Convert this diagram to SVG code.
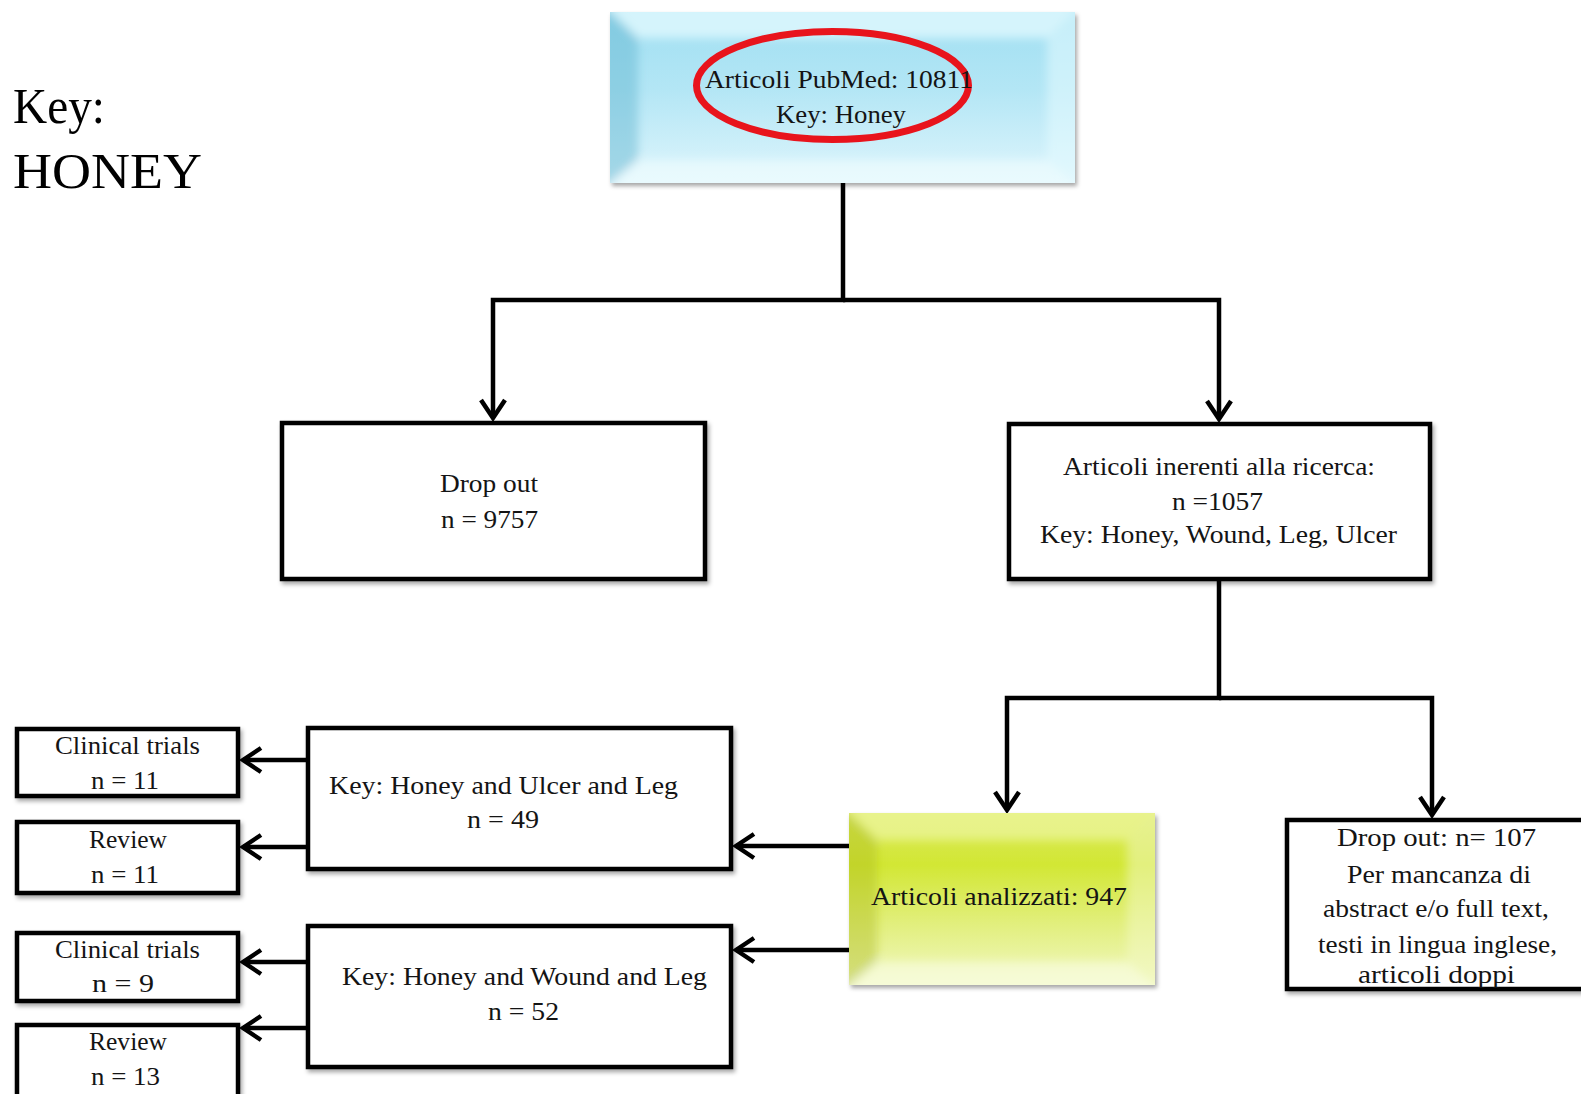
<svg xmlns="http://www.w3.org/2000/svg" width="1581" height="1094" viewBox="0 0 1581 1094">
  <style>
    text { font-family: "Liberation Serif", "Times New Roman", serif; font-size: 26px; fill: #141414; text-anchor: middle; }
    .key { font-size: 50px; text-anchor: start; fill: #000; }
    .box { fill: #ffffff; stroke: #000; stroke-width: 4.5; filter: url(#sh); }
    .conn { fill: none; stroke: #000; stroke-width: 4.5; }
    .arr { marker-end: url(#chev); }
  </style>
  <defs>
    <filter id="sh" x="-5%" y="-5%" width="115%" height="120%">
      <feDropShadow dx="2" dy="3" stdDeviation="2" flood-color="#000" flood-opacity="0.35"/>
    </filter>
    <filter id="soft" x="-5%" y="-5%" width="110%" height="110%">
      <feGaussianBlur stdDeviation="5"/>
    </filter>
    <clipPath id="clipBlue"><rect x="610" y="12" width="465" height="171"/></clipPath>
    <clipPath id="clipYellow"><rect x="849" y="813" width="306" height="172"/></clipPath>
    <marker id="chev" viewBox="0 0 26 30" refX="22" refY="15" markerWidth="26" markerHeight="30" markerUnits="userSpaceOnUse" orient="auto">
      <path d="M4 3 L22 15 L4 27" fill="none" stroke="#000" stroke-width="4.5" stroke-linejoin="miter"/>
    </marker>
    <linearGradient id="blue" x1="0" y1="0" x2="0" y2="1">
      <stop offset="0" stop-color="#a0dff2"/>
      <stop offset="0.45" stop-color="#b3e6f5"/>
      <stop offset="1" stop-color="#def5fc"/>
    </linearGradient>
    <linearGradient id="yellow" x1="0" y1="0" x2="0" y2="1">
      <stop offset="0" stop-color="#dbe95c"/>
      <stop offset="0.3" stop-color="#d2e734"/>
      <stop offset="0.65" stop-color="#e2ef7e"/>
      <stop offset="1" stop-color="#f1f8c2"/>
    </linearGradient>
  </defs>

  <g id="legend">
    <text class="key" x="13" y="123" textLength="92" lengthAdjust="spacingAndGlyphs">Key:</text>
    <text class="key" x="13" y="188" textLength="189" lengthAdjust="spacingAndGlyphs">HONEY</text>
  </g>

  <g id="connectors">
    <path class="conn arr" d="M843 183 V300 H493 V418"/>
    <path class="conn arr" d="M843 300 H1219 V419"/>
    <path class="conn arr" d="M1219 581 V698 H1007 V810"/>
    <path class="conn arr" d="M1219 698 H1432 V815"/>
    <path class="conn arr" d="M849 846 H736"/>
    <path class="conn arr" d="M849 950 H736"/>
    <path class="conn arr" d="M306 760 H243"/>
    <path class="conn arr" d="M306 847 H243"/>
    <path class="conn arr" d="M306 962 H243"/>
    <path class="conn arr" d="M306 1028 H243"/>
  </g>

  <g id="node-pubmed">
    <g filter="url(#sh)">
      <rect x="610" y="12" width="465" height="171" fill="url(#blue)"/>
    </g>
    <g clip-path="url(#clipBlue)">
      <g filter="url(#soft)">
        <polygon points="600,2 1085,2 1047,38 638,38" fill="#e6fbff" fill-opacity="0.75"/>
        <polygon points="600,2 638,38 638,160 600,193" fill="#5fb3cf" fill-opacity="0.45"/>
        <polygon points="1085,2 1047,38 1047,160 1085,193" fill="#e6fbff" fill-opacity="0.55"/>
        <polygon points="600,193 638,160 1047,160 1085,193" fill="#f2fdff" fill-opacity="0.6"/>
      </g>
    </g>
    <ellipse cx="832.5" cy="85.5" rx="136" ry="54" fill="none" stroke="#e8141c" stroke-width="7"/>
    <text x="839" y="88" textLength="268" lengthAdjust="spacingAndGlyphs">Articoli  PubMed:  10811</text>
    <text x="841" y="123" textLength="130" lengthAdjust="spacingAndGlyphs">Key: Honey</text>
  </g>

  <g id="node-dropout">
    <rect class="box" x="282" y="423" width="423" height="156"/>
    <text x="489" y="492" textLength="98" lengthAdjust="spacingAndGlyphs">Drop out</text>
    <text x="489.5" y="528" textLength="97" lengthAdjust="spacingAndGlyphs">n = 9757</text>
  </g>

  <g id="node-inerenti">
    <rect class="box" x="1009" y="424" width="421" height="155"/>
    <text x="1219" y="475" textLength="312" lengthAdjust="spacingAndGlyphs">Articoli  inerenti  alla ricerca:</text>
    <text x="1217.5" y="510" textLength="91" lengthAdjust="spacingAndGlyphs">n =1057</text>
    <text x="1218.5" y="543" textLength="357" lengthAdjust="spacingAndGlyphs">Key: Honey,  Wound, Leg, Ulcer</text>
  </g>

  <g id="node-analizzati">
    <g filter="url(#sh)">
      <rect x="849" y="813" width="306" height="172" fill="url(#yellow)"/>
    </g>
    <g clip-path="url(#clipYellow)">
      <g filter="url(#soft)">
        <polygon points="839,803 1165,803 1127,840 877,840" fill="#eef6a0" fill-opacity="0.7"/>
        <polygon points="839,803 877,840 877,962 839,995" fill="#a9b81c" fill-opacity="0.4"/>
        <polygon points="1165,803 1127,840 1127,962 1165,995" fill="#f4f9c8" fill-opacity="0.5"/>
        <polygon points="839,995 877,962 1127,962 1165,995" fill="#fafde6" fill-opacity="0.6"/>
      </g>
    </g>
    <text x="999" y="905" textLength="256" lengthAdjust="spacingAndGlyphs">Articoli  analizzati:  947</text>
  </g>

  <g id="node-dropout107">
    <rect class="box" x="1287" y="820" width="310" height="169"/>
    <text x="1436.5" y="846" textLength="199" lengthAdjust="spacingAndGlyphs">Drop out:  n= 107</text>
    <text x="1439" y="883" textLength="184" lengthAdjust="spacingAndGlyphs">Per mancanza  di</text>
    <text x="1436" y="917" textLength="226" lengthAdjust="spacingAndGlyphs">abstract  e/o full  text,</text>
    <text x="1437.5" y="953" textLength="239" lengthAdjust="spacingAndGlyphs">testi  in lingua  inglese,</text>
    <text x="1436.5" y="983" textLength="157" lengthAdjust="spacingAndGlyphs">articoli  doppi</text>
  </g>

  <g id="node-ulcer">
    <rect class="box" x="308" y="728" width="423" height="141"/>
    <text x="503.5" y="794" textLength="349" lengthAdjust="spacingAndGlyphs">Key: Honey  and Ulcer  and Leg</text>
    <text x="503" y="828" textLength="72" lengthAdjust="spacingAndGlyphs">n = 49</text>
  </g>

  <g id="node-wound">
    <rect class="box" x="308" y="926" width="423" height="141"/>
    <text x="524.5" y="985" textLength="365" lengthAdjust="spacingAndGlyphs">Key: Honey  and Wound  and Leg</text>
    <text x="523.5" y="1020" textLength="71" lengthAdjust="spacingAndGlyphs">n = 52</text>
  </g>

  <g id="node-clinical1">
    <rect class="box" x="17" y="729" width="221" height="67"/>
    <text x="127.5" y="754" textLength="145" lengthAdjust="spacingAndGlyphs">Clinical  trials</text>
    <text x="125" y="789" textLength="68" lengthAdjust="spacingAndGlyphs">n = 11</text>
  </g>

  <g id="node-review1">
    <rect class="box" x="17" y="822" width="221" height="71"/>
    <text x="128" y="848" textLength="78" lengthAdjust="spacingAndGlyphs">Review</text>
    <text x="125" y="883" textLength="68" lengthAdjust="spacingAndGlyphs">n = 11</text>
  </g>

  <g id="node-clinical2">
    <rect class="box" x="17" y="933" width="221" height="68"/>
    <text x="127.5" y="958" textLength="145" lengthAdjust="spacingAndGlyphs">Clinical  trials</text>
    <text x="123" y="992" textLength="62" lengthAdjust="spacingAndGlyphs">n = 9</text>
  </g>

  <g id="node-review2">
    <rect class="box" x="17" y="1025" width="221" height="90"/>
    <text x="128" y="1050" textLength="78" lengthAdjust="spacingAndGlyphs">Review</text>
    <text x="125.5" y="1085" textLength="69" lengthAdjust="spacingAndGlyphs">n = 13</text>
  </g>
</svg>
